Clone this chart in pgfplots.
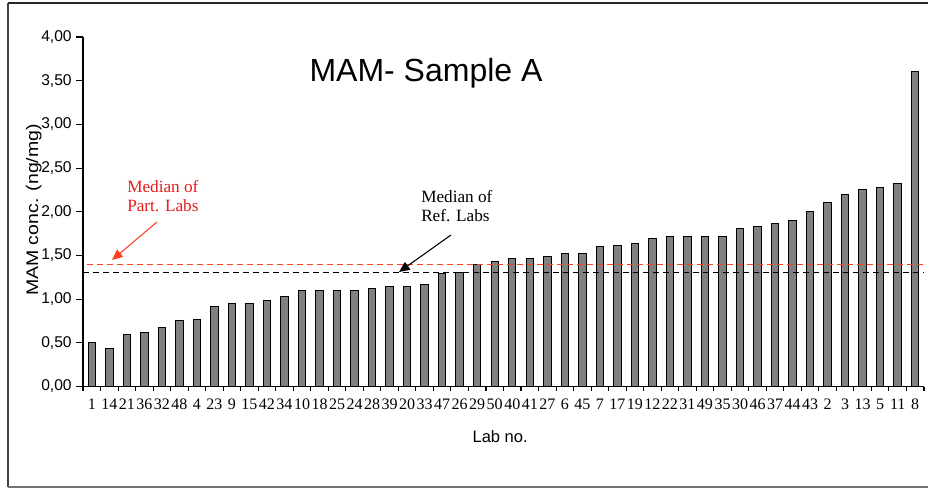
\documentclass[border=0pt]{standalone}
\usepackage{pgfplots}
\usepackage{pgfplotstable}
\pgfplotsset{compat=1.18}
\usepackage{fontspec}
\setmainfont{Liberation Sans}
\newfontfamily\serif{Liberation Serif}
\usetikzlibrary{arrows.meta}
\definecolor{barfill}{RGB}{128,128,128}
\definecolor{medred}{RGB}{255,64,32}
\definecolor{txtred}{RGB}{228,28,28}

\pgfplotstableread{
idx lab value
0 1 0.50
1 14 0.44
2 21 0.60
3 36 0.62
4 32 0.68
5 48 0.76
6 4 0.77
7 23 0.92
8 9 0.95
9 15 0.95
10 42 0.98
11 34 1.03
12 10 1.10
13 18 1.10
14 25 1.10
15 24 1.10
16 28 1.12
17 39 1.14
18 20 1.15
19 33 1.17
20 47 1.29
21 26 1.31
22 29 1.40
23 50 1.43
24 40 1.46
25 41 1.46
26 27 1.49
27 6 1.52
28 45 1.52
29 7 1.60
30 17 1.61
31 19 1.64
32 12 1.69
33 22 1.72
34 31 1.72
35 49 1.72
36 35 1.72
37 30 1.81
38 46 1.83
39 37 1.87
40 44 1.90
41 43 2.00
42 2 2.11
43 3 2.20
44 13 2.26
45 5 2.28
46 11 2.32
47 8 3.60
}\datatable

\begin{document}
\begin{tikzpicture}
\path[use as bounding box] (0,0) rectangle (696pt,-366pt);
% frame
\draw[line width=0.9pt, black!85] (6pt,-2.25pt) -- (700pt,-2.25pt);
\draw[line width=1pt, black!75] (6pt,-2.25pt) -- (6pt,-365.25pt);
\draw[line width=0.9pt, black!55] (6pt,-365.25pt) -- (700pt,-365.25pt);

\begin{axis}[
  at={(62.25pt,-289.875pt)}, anchor=south west,
  scale only axis, width=630.75pt, height=262.125pt,
  xmin=-0.5, xmax=47.5, ymin=0, ymax=4,
  axis x line*=bottom, axis y line*=left,
  axis line style={line width=0.8pt, -},
  tick style={line width=0.8pt, black},
  tick align=outside,
  xtick={0,...,47},
  xticklabels from table={\datatable}{lab},
  minor xtick={-0.5,0.5,...,47.5},
  major x tick style={draw=none},
  major tick length=5pt,
  minor tick length=3pt,
  xticklabel style={font=\serif\fontsize{12}{12}\selectfont, anchor=north, yshift=-1pt},
  ytick={0,0.5,...,4},
  yticklabel style={font=\fontsize{11.7}{12}\selectfont},
  /pgf/number format/.cd, fixed, fixed zerofill, precision=2, use comma, assume math mode=true,
  /pgfplots/.cd,
  xlabel={Lab no.},
  xlabel style={font=\fontsize{12.4}{14}\selectfont, at={(axis description cs:0.496,0)}, anchor=center, yshift=-37.5pt},
  ylabel={MAM conc. (ng/mg)},
  ylabel style={font=\fontsize{12.6}{14}\selectfont, at={(axis description cs:-0.0585,0.505)}, anchor=center, xscale=1.16},
  clip=false,
]
\addplot[ybar, bar width=5.6pt, fill=barfill, draw=black, line width=0.75pt] table[x=idx, y=value] {\datatable};
\addplot[medred, line width=0.8pt, dash pattern=on 4.5pt off 3pt] coordinates {(-0.3,1.40) (47.5,1.40)};
\addplot[black, line width=0.8pt, dash pattern=on 4.5pt off 3pt] coordinates {(-0.5,1.31) (47.5,1.31)};
\end{axis}

\begin{scope}[x=0.75pt, y=-0.75pt]
\node[font=\fontsize{24}{28}\selectfont, anchor=center] at (426,73) {MAM- Sample A};
\node[font=\serif\fontsize{12.9}{14.3}\selectfont, text=txtred, anchor=base west, align=left, inner sep=0pt] at (127,211.5) {Median of\\Part. Labs};
\node[font=\serif\fontsize{12.9}{14.3}\selectfont, text=black, anchor=base west, align=left, inner sep=0pt] at (421,221.7) {Median of\\Ref. Labs};
\draw[medred, line width=0.8pt, -{Triangle[length=8pt, width=7pt]}] (157,222) -- (112,260);
\draw[black, line width=0.8pt, -{Triangle[length=8pt, width=7pt]}] (451,235) -- (399,272);
\end{scope}
\end{tikzpicture}
\end{document}
